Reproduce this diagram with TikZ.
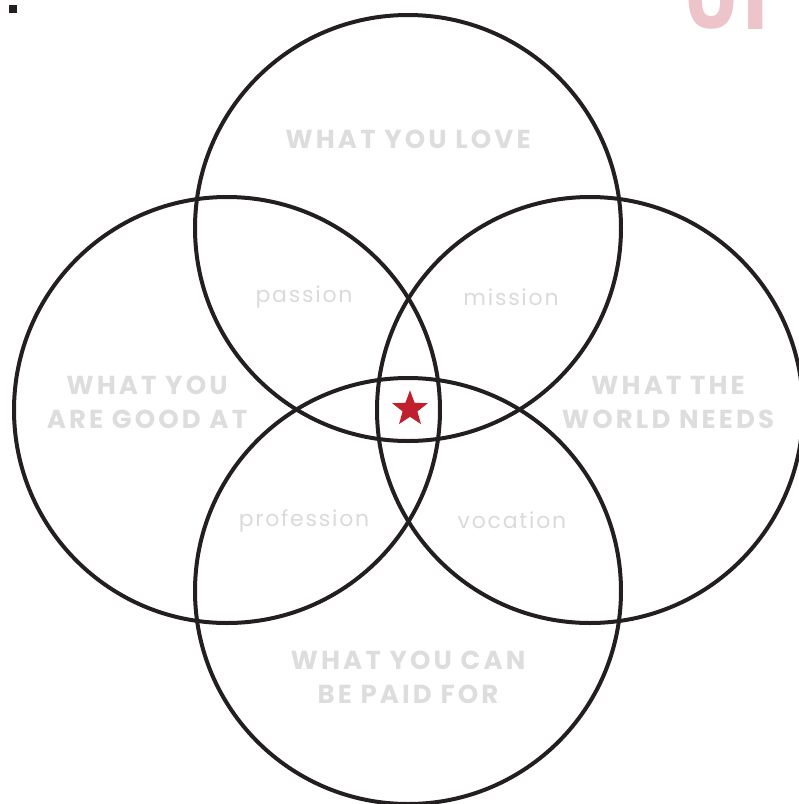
\documentclass[tikz,border=0pt]{standalone}
\usepackage{fontspec}
\setmainfont{Poppins}
\newfontfamily\bigfont[LetterSpace=12]{Poppins}
\newfontfamily\smallfont[LetterSpace=8]{Poppins}
\usepackage{tikz}
\usetikzlibrary{shapes.geometric,positioning}
\definecolor{ringblack}{RGB}{35,31,32}
\definecolor{biglabel}{RGB}{221,221,221}
\definecolor{smalllabel}{RGB}{218,218,218}
\definecolor{starred}{RGB}{192,32,46}
\definecolor{pagepink}{RGB}{236,196,201}

\begin{document}
\begin{tikzpicture}[x=0.75pt, y=-0.75pt,
  ring/.style={draw=ringblack, line width=3pt},
  bigtext/.style={text=biglabel, font=\bigfont\bfseries\fontsize{19.5}{25.5}\selectfont, align=center},
  smalltext/.style={text=smalllabel, font=\smallfont\fontsize{16.5}{18}\selectfont}]
  \useasboundingbox (0,0) rectangle (799,804);
  % circle centres
  \coordinate (CL) at (408,228);   \coordinate (CG) at (227,410);
  \coordinate (CW) at (590,410);   \coordinate (CP) at (408,591);
  % four rings
  \foreach \c in {CL,CG,CW,CP}
    \draw[ring] (\c) circle (159.75pt);
  % outer labels
  \node[bigtext] (love) at (408,139) {WHAT YOU LOVE};
  \node[bigtext] (good) at (147,402) {WHAT YOU\\ARE GOOD AT};
  \node[bigtext] (world) at (668,402) {WHAT THE\\WORLD NEEDS};
  \node[bigtext] (paid) at (408,677) {WHAT YOU CAN\\BE PAID FOR};
  % overlaps
  \node[smalltext] (passion) at (304,297) {passion};
  \node[smalltext] (mission) at (511,297) {mission};
  \node[smalltext] (profession) at (304,521) {profession};
  \node[smalltext] (vocation) at (512,520) {vocation};
  % centre
  \node[star, star points=5, star point ratio=2.4, fill=starred, inner sep=0pt, minimum size=28pt] (ikigai) at (410,409) {};
  % page leftovers
  \node[text=pagepink, font=\bfseries\fontsize{60}{60}\selectfont, anchor=base] (pagenum) at (727,29) {01};
  \node[fill=ringblack, inner sep=0pt, minimum size=6pt] (mark) at (13,9) {};
\end{tikzpicture}
\end{document}
